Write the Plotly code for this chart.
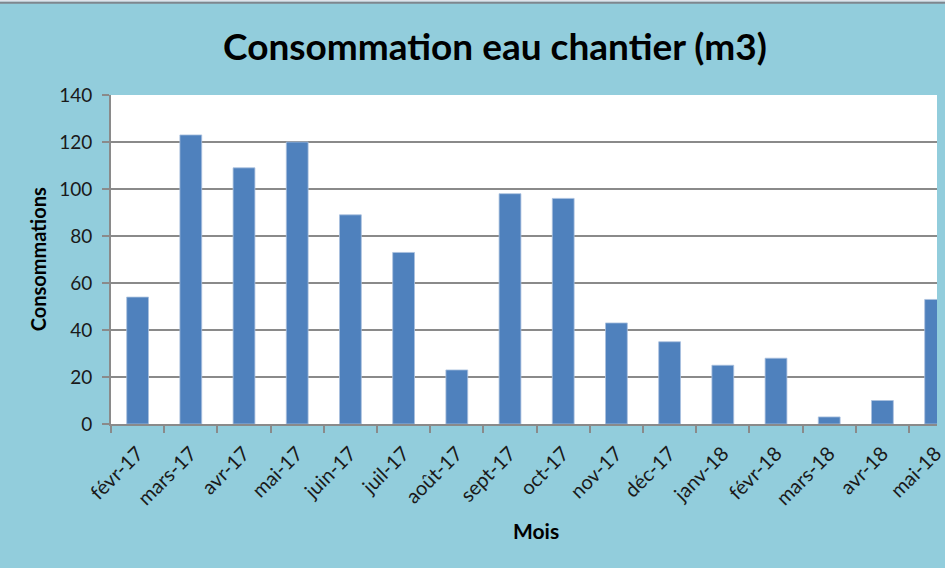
import plotly.graph_objects as go

months = ["févr-17", "mars-17", "avr-17", "mai-17", "juin-17", "juil-17", "août-17",
          "sept-17", "oct-17", "nov-17", "déc-17", "janv-18", "févr-18", "mars-18",
          "avr-18", "mai-18"]
consommations = [54, 123, 109, 120, 89, 73, 23, 98, 96, 43, 35, 25, 28, 3, 10, 53]
y_ticks = [0, 20, 40, 60, 80, 100, 120, 140]

BG = "#92CDDC"
BAR = "#4F81BD"
GRID = "#8A8A8A"
FONT = "Lato"

fig = go.Figure()
fig.add_trace(go.Bar(
    x=months, y=consommations,
    marker=dict(color=BAR, line=dict(color="#a9c0de", width=0.8)),
    hoverinfo="x+y",
))

fig.update_layout(
    width=945, height=568,
    margin=dict(l=111, r=0, t=95, b=144, pad=0),
    paper_bgcolor=BG, plot_bgcolor="white",
    bargap=0.59,
    showlegend=False,
    font=dict(family=FONT, color="#1a1a1a"),
    title=dict(text="<b>Consommation eau chantier (m3)</b>",
               x=495/945, xanchor="center", xref="container",
               y=1 - 47/568, yanchor="middle", yref="container",
               font=dict(family=FONT, size=37, color="black")),
    xaxis=dict(
        type="category",
        range=[-0.5, 15.026],
        tickson="boundaries",
        ticks="outside", ticklen=7, tickwidth=2, tickcolor=GRID,
        showline=True, linecolor=GRID, linewidth=2,
        tickangle=-45,
        ticklabelstandoff=8,
        tickfont=dict(family=FONT, size=20, color="#1a1a1a"),
        showgrid=False,
    ),
    yaxis=dict(
        range=[0, 140],
        tickvals=y_ticks,
        ticks="outside", ticklen=7, tickwidth=2, tickcolor=GRID,
        showline=True, linecolor=GRID, linewidth=2,
        showgrid=True, gridcolor=GRID, gridwidth=2,
        ticklabelstandoff=6,
        tickfont=dict(family=FONT, size=19, color="#1a1a1a"),
        zeroline=False,
    ),
    annotations=[
        dict(text="<b>Consommations</b>", textangle=-90,
             xref="paper", yref="paper", x=(37 - 111) / 834, y=0.5,
             xanchor="center", yanchor="middle", showarrow=False,
             font=dict(family=FONT, size=20, color="black")),
        dict(text="<b>Mois</b>",
             xref="paper", yref="paper", x=(540 - 111) / 834, y=(424 - 530) / 329,
             xanchor="center", yanchor="middle", showarrow=False,
             font=dict(family=FONT, size=21, color="black")),
    ],
    shapes=[
        dict(type="line", xref="paper", yref="paper",
             x0=-0.2, x1=1.1, y0=(424 - 0.8) / 329, y1=(424 - 0.8) / 329,
             line=dict(color="#dfe3ea", width=2)),
        dict(type="line", xref="paper", yref="paper",
             x0=-0.2, x1=1.1, y0=(424 - 2.8) / 329, y1=(424 - 2.8) / 329,
             line=dict(color="#7f868e", width=2)),
    ],
)

fig.write_html("out.html",
               config={"displayModeBar": False},
               post_script="document.body.style.margin='0';document.body.style.padding='0';")
